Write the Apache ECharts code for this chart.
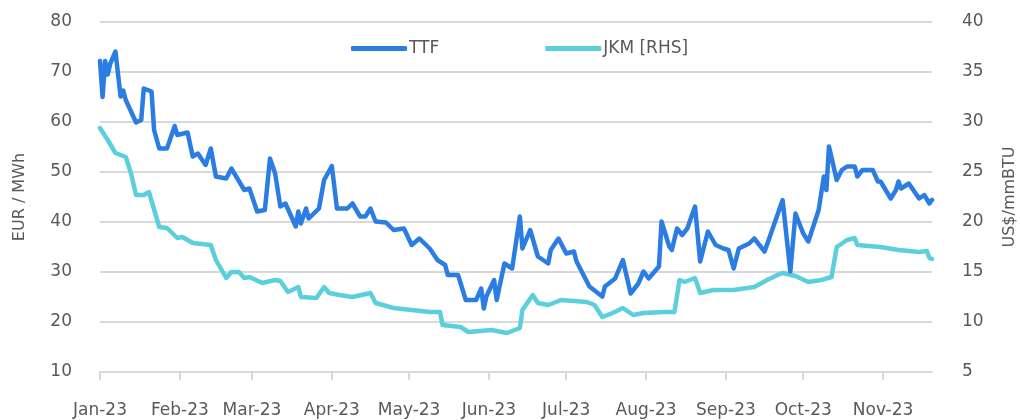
<!DOCTYPE html>
<html><head><meta charset="utf-8">
<script src="https://cdn.jsdelivr.net/npm/echarts@6/dist/echarts.min.js"></script>
<style>html,body{margin:0;padding:0;background:#fff}#c{width:1020px;height:420px}</style>
</head><body><div id="c"></div>
<script>
const ttfDates = ['2023-01-01','2023-01-02','2023-01-03','2023-01-04','2023-01-05','2023-01-07','2023-01-09','2023-01-10','2023-01-11','2023-01-15','2023-01-17','2023-01-18','2023-01-21','2023-01-22','2023-01-24','2023-01-27','2023-01-30','2023-01-31',
'2023-02-04','2023-02-06','2023-02-08','2023-02-11','2023-02-13','2023-02-15','2023-02-19','2023-02-21','2023-02-26','2023-02-28',
'2023-03-03','2023-03-06','2023-03-08','2023-03-10','2023-03-12','2023-03-14','2023-03-18','2023-03-19','2023-03-20','2023-03-22','2023-03-23','2023-03-27','2023-03-29',
'2023-04-01','2023-04-03','2023-04-07','2023-04-09','2023-04-12','2023-04-14','2023-04-16','2023-04-18','2023-04-22','2023-04-25','2023-04-29',
'2023-05-02','2023-05-05','2023-05-09','2023-05-12','2023-05-15','2023-05-16','2023-05-20','2023-05-23','2023-05-27','2023-05-29','2023-05-30','2023-05-31',
'2023-06-03','2023-06-04','2023-06-07','2023-06-10','2023-06-13','2023-06-14','2023-06-17','2023-06-20','2023-06-24','2023-06-25','2023-06-28',
'2023-07-01','2023-07-04','2023-07-05','2023-07-10','2023-07-15','2023-07-16','2023-07-20','2023-07-23','2023-07-26','2023-07-29','2023-07-31',
'2023-08-02','2023-08-06','2023-08-07','2023-08-10','2023-08-11','2023-08-13','2023-08-15','2023-08-17','2023-08-20','2023-08-22','2023-08-25','2023-08-28','2023-08-31',
'2023-09-02','2023-09-04','2023-09-06','2023-09-10','2023-09-12','2023-09-14','2023-09-16','2023-09-18','2023-09-23','2023-09-26','2023-09-28',
'2023-10-01','2023-10-03','2023-10-07','2023-10-09','2023-10-10','2023-10-11','2023-10-14','2023-10-16','2023-10-18','2023-10-21','2023-10-22','2023-10-24','2023-10-28','2023-10-30','2023-10-31',
'2023-11-04','2023-11-06','2023-11-07','2023-11-08','2023-11-11','2023-11-15','2023-11-17','2023-11-19','2023-11-20'];
const ttfValues = [72.2,65.0,72.2,69.5,71.7,74.1,65.1,66.3,64.4,59.9,60.4,66.7,66.1,58.4,54.7,54.7,59.2,57.4,
57.9,53.1,53.7,51.4,54.7,49.1,48.7,50.7,46.4,46.7,
42.1,42.4,52.7,49.7,43.1,43.7,39.1,42.1,39.7,42.7,40.7,42.7,48.4,
51.2,42.7,42.7,43.7,41.1,41.1,42.7,40.1,39.9,38.4,38.7,
35.4,36.7,34.7,32.4,31.4,29.4,29.4,24.4,24.4,26.7,22.7,25.1,
28.4,24.4,31.7,30.7,41.1,34.7,38.4,33.1,31.7,34.4,36.7,
33.7,34.1,32.1,27.1,25.1,27.1,28.7,32.4,25.7,27.7,30.1,
28.7,31.1,40.1,35.1,34.4,38.7,37.4,38.7,43.1,32.1,38.1,35.4,34.7,
34.4,30.7,34.7,35.7,36.7,35.4,34.1,37.0,44.4,30.1,41.7,
37.7,36.1,42.4,49.1,46.4,55.1,48.4,50.4,51.1,51.1,49.1,50.4,50.4,48.1,48.1,
44.7,46.4,48.1,46.7,47.7,44.7,45.4,43.7,44.4];

const jkmDates = ['2023-01-01','2023-01-04','2023-01-07','2023-01-11','2023-01-13','2023-01-15','2023-01-18','2023-01-20','2023-01-24','2023-01-27','2023-01-31',
'2023-02-02','2023-02-06','2023-02-13','2023-02-15','2023-02-19','2023-02-21','2023-02-24','2023-02-26','2023-02-28',
'2023-03-05','2023-03-10','2023-03-12','2023-03-15','2023-03-19','2023-03-20','2023-03-26','2023-03-29','2023-03-31',
'2023-04-04','2023-04-09','2023-04-16','2023-04-18','2023-04-25',
'2023-05-02','2023-05-09','2023-05-13','2023-05-14','2023-05-21','2023-05-24',
'2023-06-02','2023-06-08','2023-06-13','2023-06-14','2023-06-18','2023-06-20','2023-06-24','2023-06-29',
'2023-07-09','2023-07-12','2023-07-15','2023-07-19','2023-07-23','2023-07-27','2023-07-31',
'2023-08-08','2023-08-12','2023-08-14','2023-08-16','2023-08-20','2023-08-22','2023-08-27',
'2023-09-04','2023-09-12','2023-09-17','2023-09-21','2023-09-23','2023-09-28',
'2023-10-03','2023-10-08','2023-10-12','2023-10-14','2023-10-18','2023-10-21','2023-10-22','2023-10-31',
'2023-11-07','2023-11-15','2023-11-18','2023-11-19','2023-11-20'];
const jkmValues = [29.4,28.2,26.9,26.5,24.9,22.7,22.7,23.0,19.5,19.4,18.4,
18.5,17.9,17.7,16.2,14.4,15.0,15.0,14.4,14.5,
13.9,14.2,14.1,13.0,13.5,12.5,12.4,13.5,12.9,
12.7,12.5,12.9,11.9,11.4,
11.2,11.0,11.0,9.7,9.5,9.0,
9.2,8.9,9.4,11.2,12.7,11.9,11.7,12.2,
12.0,11.7,10.5,10.9,11.4,10.7,10.9,
11.0,11.0,14.2,14.0,14.4,12.9,13.2,
13.2,13.5,14.2,14.7,14.9,14.6,
14.0,14.2,14.5,17.5,18.2,18.4,17.7,17.5,
17.2,17.0,17.1,16.4,16.3];

const leftTicks = {min: 10, max: 80, step: 10};
const rightTicks = {min: 5, max: 40, step: 5};
const monthNames = ['Jan','Feb','Mar','Apr','May','Jun','Jul','Aug','Sep','Oct','Nov','Dec'];

const FONT = 'DejaVu Sans';
const TXT = '#595959';
const GRID = '#d9d9d9';

const chart = echarts.init(document.getElementById('c'), null, {renderer: 'canvas'});
chart.setOption({
  animation: false,
  backgroundColor: '#fff',
  textStyle: {fontFamily: FONT, color: TXT},
  grid: {left: 100, right: 88, top: 22, bottom: 48, containLabel: false, outerBoundsMode: 'none'},
  legend: {
    left: 346, top: 35, itemWidth: 56, itemHeight: 5, itemGap: 106, icon: 'roundRect',
    textStyle: {fontFamily: FONT, fontSize: 17, color: TXT, padding: [0,0,0,-3]},
    data: ['TTF', 'JKM [RHS]']
  },
  xAxis: {
    type: 'time',
    min: new Date(2023, 0, 1).getTime(),
    max: new Date(2023, 10, 20).getTime(),
    splitNumber: 12,
    minInterval: 28 * 86400000,
    maxInterval: 31 * 86400000,
    axisLine: {show: true, lineStyle: {color: GRID, width: 2}},
    axisTick: {show: true, length: 8, lineStyle: {color: GRID, width: 2}},
    splitLine: {show: false},
    axisLabel: {
      fontFamily: FONT, fontSize: 17, color: TXT, margin: 30, showMaxLabel: false,
      formatter: function (v) { const d = new Date(v); return monthNames[d.getMonth()] + '-' + String(d.getFullYear()).slice(2); }
    }
  },
  yAxis: [{
    type: 'value', min: leftTicks.min, max: leftTicks.max, interval: leftTicks.step,
    name: 'EUR / MWh', nameLocation: 'middle', nameGap: 72, nameRotate: 90,
    nameTextStyle: {fontFamily: FONT, fontSize: 16, color: TXT},
    axisLine: {show: false}, axisTick: {show: false},
    axisLabel: {fontFamily: FONT, fontSize: 17, color: TXT, margin: 28},
    splitLine: {show: true, lineStyle: {color: GRID, width: 2}}
  }, {
    type: 'value', min: rightTicks.min, max: rightTicks.max, interval: rightTicks.step,
    name: 'US$/mmBTU', nameLocation: 'middle', nameGap: 70, nameRotate: 90,
    nameTextStyle: {fontFamily: FONT, fontSize: 16, color: TXT},
    axisLine: {show: false}, axisTick: {show: false},
    axisLabel: {fontFamily: FONT, fontSize: 17, color: TXT, margin: 30},
    splitLine: {show: false}
  }],
  series: [{
    name: 'TTF', type: 'line', yAxisIndex: 0, showSymbol: false, symbol: 'none',
    data: ttfDates.map((d, i) => [d, ttfValues[i]]),
    lineStyle: {color: '#2b7de1', width: 4.5, join: 'round', cap: 'round'},
    itemStyle: {color: '#2b7de1'}, z: 3
  }, {
    name: 'JKM [RHS]', type: 'line', yAxisIndex: 1, showSymbol: false, symbol: 'none',
    data: jkmDates.map((d, i) => [d, jkmValues[i]]),
    lineStyle: {color: '#5ccfdc', width: 4.5, join: 'round', cap: 'round'},
    itemStyle: {color: '#5ccfdc'}, z: 2
  }]
});
</script>
</body></html>
